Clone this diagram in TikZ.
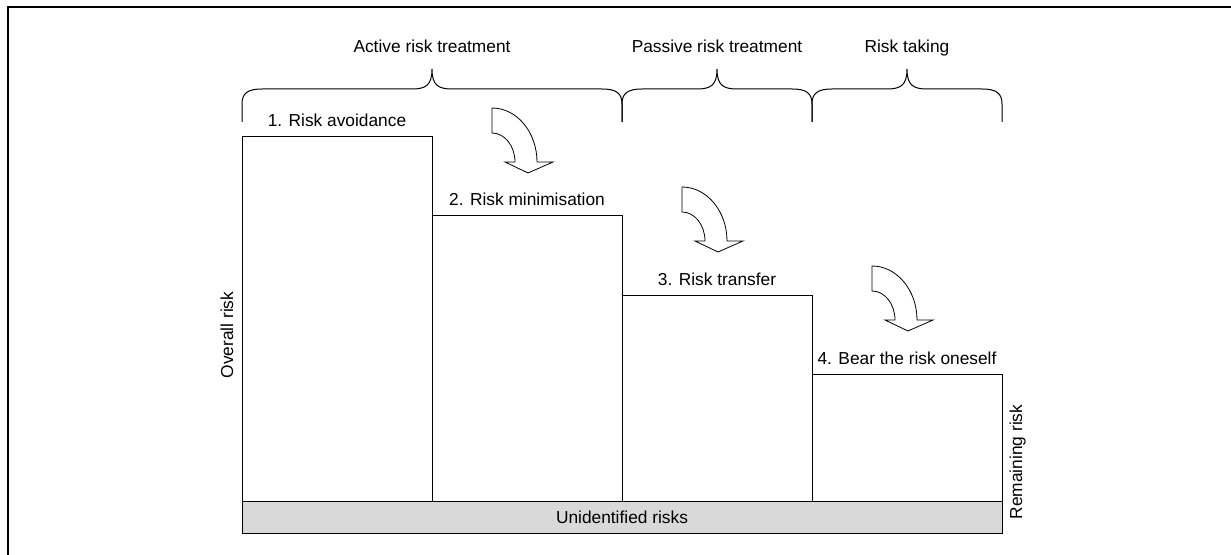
\documentclass[tikz,border=0pt]{standalone}
\usepackage{fontspec}
\setmainfont{Liberation Sans}
\begin{document}
\begin{tikzpicture}[x=0.75pt,y=-0.75pt,font=\fontsize{13}{15}\selectfont,
  every node/.style={inner sep=0pt},
  stepline/.style={black,line width=0.75pt},
  turnarrow/.style={black,line width=0.6pt,fill=white}]
  \useasboundingbox (0,0) rectangle (1231,555);
  % Only the top and left edges of the frame are shown.
  \draw[line width=1.5pt] (8,555) -- (8,7) -- (1231,7);
  % The band of risks that nobody has found runs under every step.
  \draw[stepline,fill=black!15] (242,501) rectangle (1002,533);
  \node[anchor=base] (unidentified) at (622,523) {Unidentified risks};
  % Each treatment lowers the step that is left over.
  \foreach \i/\xl/\ytop/\lab in {1/242/137/{1. Risk avoidance},
      2/432/216/{2. Risk minimisation},3/622/296/{3. Risk transfer},
      4/812/375/{4. Bear the risk oneself}} {
    \draw[stepline] (\xl,501) -- (\xl,\ytop) -- (\xl+190,\ytop) -- (\xl+190,501);
    \node[anchor=base] (step\i) at (\xl+95,\ytop-10) {\lab};
  }
  % Braces group the steps into kinds of treatment.
  \foreach \i/\xa/\xm/\xb/\lab in {1/242/432/622/{Active risk treatment},
      2/622/717/812/{Passive risk treatment},3/812/907/1002/{Risk taking}} {
    \draw[stepline] (\xa,122) -- (\xa,104) .. controls (\xa,93) and (\xa+6,89) .. (\xa+20,89)
      -- (\xm-20,89) .. controls (\xm-6,89) and (\xm,85) .. (\xm,69)
      .. controls (\xm,85) and (\xm+6,89) .. (\xm+20,89)
      -- (\xb-20,89) .. controls (\xb-6,89) and (\xb,93) .. (\xb,104) -- (\xb,122);
    \node[anchor=base] (phase\i) at (\xm,53) {\lab};
  }
  % Bent arrows lead from one step down to the next.
  \foreach \px/\py in {492/108,682/187,872/266}
    \draw[turnarrow] (\px,\py) arc[start angle=-90,end angle=0,x radius=45,y radius=54]
      -- (\px+61,\py+54) -- (\px+36,\py+65) -- (\px+13,\py+54) -- (\px+23,\py+54)
      arc[start angle=0,end angle=-90,x radius=23,y radius=29] -- cycle;
  \node[rotate=90,anchor=base] (overall) at (233,335) {Overall risk};
  \node[rotate=90,anchor=base] (remaining) at (1022,462) {Remaining risk};
\end{tikzpicture}
\end{document}
